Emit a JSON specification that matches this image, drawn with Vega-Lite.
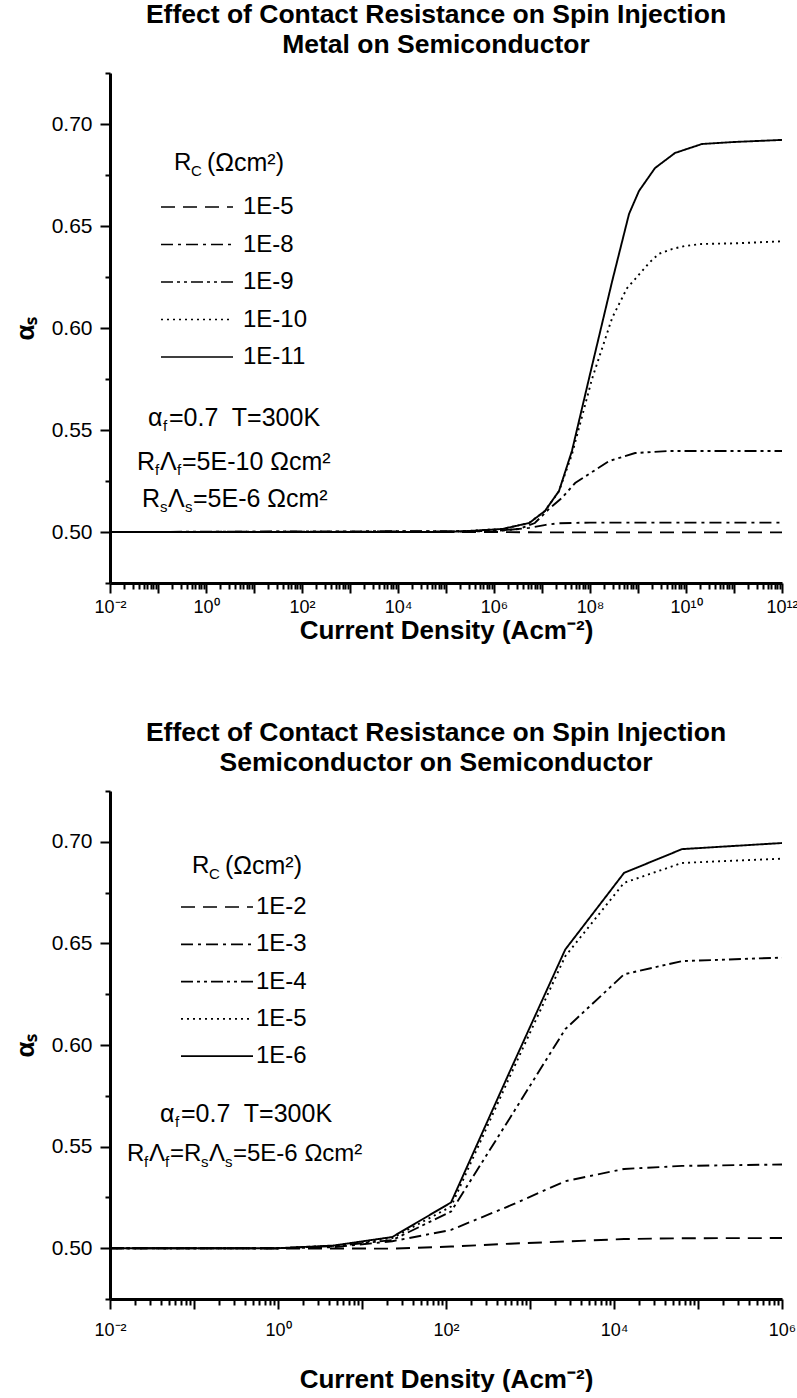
{
  "$schema": "https://vega.github.io/schema/vega-lite/v6.json",
  "background": "white",
  "padding": {"left": 12, "top": 1, "right": 0, "bottom": 0},
  "autosize": {"type": "pad"},
  "spacing": 76,
  "config": {
    "font": "Liberation Sans",
    "view": {"stroke": null},
    "axis": {"grid": false, "domainColor": "black", "domainWidth": 3, "tickColor": "black", "tickWidth": 2, "labelColor": "black", "titleColor": "black", "labelFont": "Liberation Sans", "titleFont": "Liberation Sans"},
    "title": {"fontSize": 26.5, "fontWeight": "bold", "color": "black", "lineHeight": 30, "anchor": "middle", "frame": "group", "offset": 14, "font": "Liberation Sans"},
    "legend": {"labelFont": "Liberation Sans", "labelColor": "black"}
  },
  "resolve": {"scale": {"x": "independent", "y": "independent", "strokeDash": "independent"}, "legend": {"strokeDash": "independent"}},
  "vconcat": [
    {
      "width": 672,
      "height": 510,
      "title": {"text": ["Effect of Contact Resistance on Spin Injection", "Metal on Semiconductor"], "dx": -10},
      "layer": [
        {
          "data": {"values": [
            {"rc": "1E-11", "J": 0.01, "a": 0.5},
            {"rc": "1E-11", "J": 100000, "a": 0.5},
            {"rc": "1E-11", "J": 300000, "a": 0.5005},
            {"rc": "1E-11", "J": 1500000, "a": 0.5015},
            {"rc": "1E-11", "J": 5400000, "a": 0.5044},
            {"rc": "1E-11", "J": 11500000, "a": 0.5103},
            {"rc": "1E-11", "J": 22600000, "a": 0.5201},
            {"rc": "1E-11", "J": 42000000, "a": 0.5397},
            {"rc": "1E-11", "J": 110000000, "a": 0.5814},
            {"rc": "1E-11", "J": 290000000, "a": 0.623},
            {"rc": "1E-11", "J": 650000000, "a": 0.6559},
            {"rc": "1E-11", "J": 1050000000, "a": 0.6672},
            {"rc": "1E-11", "J": 2260000000, "a": 0.6784},
            {"rc": "1E-11", "J": 5900000000, "a": 0.6858},
            {"rc": "1E-11", "J": 21500000000, "a": 0.6902},
            {"rc": "1E-11", "J": 105000000000, "a": 0.6912},
            {"rc": "1E-11", "J": 1000000000000, "a": 0.6922},
            {"rc": "1E-10", "J": 0.01, "a": 0.5},
            {"rc": "1E-10", "J": 100000, "a": 0.5},
            {"rc": "1E-10", "J": 300000, "a": 0.5005},
            {"rc": "1E-10", "J": 1500000, "a": 0.5015},
            {"rc": "1E-10", "J": 5400000, "a": 0.5044},
            {"rc": "1E-10", "J": 11500000, "a": 0.5103},
            {"rc": "1E-10", "J": 22600000, "a": 0.52},
            {"rc": "1E-10", "J": 42000000, "a": 0.538},
            {"rc": "1E-10", "J": 110000000, "a": 0.575},
            {"rc": "1E-10", "J": 290000000, "a": 0.605},
            {"rc": "1E-10", "J": 590000000, "a": 0.6195},
            {"rc": "1E-10", "J": 870000000, "a": 0.624},
            {"rc": "1E-10", "J": 1700000000, "a": 0.6319},
            {"rc": "1E-10", "J": 2700000000, "a": 0.6363},
            {"rc": "1E-10", "J": 5100000000, "a": 0.6387},
            {"rc": "1E-10", "J": 9500000000, "a": 0.6402},
            {"rc": "1E-10", "J": 21500000000, "a": 0.6412},
            {"rc": "1E-10", "J": 105000000000, "a": 0.6415},
            {"rc": "1E-10", "J": 1000000000000, "a": 0.6425},
            {"rc": "1E-9", "J": 0.01, "a": 0.5},
            {"rc": "1E-9", "J": 1000000, "a": 0.5005},
            {"rc": "1E-9", "J": 3300000, "a": 0.5015},
            {"rc": "1E-9", "J": 7100000, "a": 0.5044},
            {"rc": "1E-9", "J": 14000000, "a": 0.5113},
            {"rc": "1E-9", "J": 26000000, "a": 0.5167},
            {"rc": "1E-9", "J": 49000000, "a": 0.524},
            {"rc": "1E-9", "J": 95000000, "a": 0.5284},
            {"rc": "1E-9", "J": 250000000, "a": 0.5348},
            {"rc": "1E-9", "J": 870000000, "a": 0.5387},
            {"rc": "1E-9", "J": 4400000000, "a": 0.5397},
            {"rc": "1E-9", "J": 1000000000000, "a": 0.5397},
            {"rc": "1E-8", "J": 0.01, "a": 0.5},
            {"rc": "1E-8", "J": 1000000, "a": 0.5003},
            {"rc": "1E-8", "J": 5400000, "a": 0.502},
            {"rc": "1E-8", "J": 12000000, "a": 0.5035},
            {"rc": "1E-8", "J": 22000000, "a": 0.5043},
            {"rc": "1E-8", "J": 100000000, "a": 0.5046},
            {"rc": "1E-8", "J": 1000000000000, "a": 0.5046},
            {"rc": "1E-5", "J": 0.01, "a": 0.5},
            {"rc": "1E-5", "J": 1000000, "a": 0.5},
            {"rc": "1E-5", "J": 10000000, "a": 0.4998},
            {"rc": "1E-5", "J": 1000000000000, "a": 0.4998}
          ]},
          "mark": {"type": "line", "color": "black", "strokeWidth": 1.9},
          "encoding": {
            "x": {"field": "J", "type": "quantitative",
              "scale": {"type": "log", "domain": [0.01, 1000000000000], "nice": false},
              "axis": {
                "title": "Current Density (Acm⁻²)",
                "values": [1e-2,2e-2,3e-2,4e-2,5e-2,6e-2,7e-2,8e-2,9e-2,1e-1,2e-1,3e-1,4e-1,5e-1,6e-1,7e-1,8e-1,9e-1,1,2,3,4,5,6,7,8,9,1e1,2e1,3e1,4e1,5e1,6e1,7e1,8e1,9e1,1e2,2e2,3e2,4e2,5e2,6e2,7e2,8e2,9e2,1e3,2e3,3e3,4e3,5e3,6e3,7e3,8e3,9e3,1e4,2e4,3e4,4e4,5e4,6e4,7e4,8e4,9e4,1e5,2e5,3e5,4e5,5e5,6e5,7e5,8e5,9e5,1e6,2e6,3e6,4e6,5e6,6e6,7e6,8e6,9e6,1e7,2e7,3e7,4e7,5e7,6e7,7e7,8e7,9e7,1e8,2e8,3e8,4e8,5e8,6e8,7e8,8e8,9e8,1e9,2e9,3e9,4e9,5e9,6e9,7e9,8e9,9e9,1e10,2e10,3e10,4e10,5e10,6e10,7e10,8e10,9e10,1e11,2e11,3e11,4e11,5e11,6e11,7e11,8e11,9e11,1e12],
                "labelExpr": "abs(log(datum.value)/LN10 - round(log(datum.value)/LN10)) < 0.001 && round(log(datum.value)/LN10) % 2 == 0 ? '10' + replace(replace(replace(replace(replace(replace(replace('' + round(log(datum.value)/LN10), '-', '⁻'), '0', '⁰'), '1', '¹'), '2', '²'), '4', '⁴'), '6', '⁶'), '8', '⁸') : ''",
                "labelOverlap": false,
                "labelFlush": false,
                "labelFontSize": 18,
                "labelPadding": 5,
                "tickSize": {"condition": {"test": "abs(log(datum.value)/LN10 - round(log(datum.value)/LN10)) < 0.001", "value": 10}, "value": 6},
                "titleFontSize": 26,
                "titleFontWeight": "bold",
                "titlePadding": 1
              }
            },
            "y": {"field": "a", "type": "quantitative",
              "scale": {"domain": [0.475, 0.725], "nice": false, "zero": false},
              "axis": {
                "title": "αₛ",
                "values": [0.475, 0.5, 0.525, 0.55, 0.575, 0.6, 0.625, 0.65, 0.675, 0.7, 0.725],
                "labelExpr": "abs(datum.value*20 - round(datum.value*20)) < 0.001 ? format(datum.value, '.2f') : ''",
                "tickSize": {"condition": {"test": "abs(datum.value*20 - round(datum.value*20)) < 0.001", "value": 10}, "value": 5},
                "labelFontSize": 21,
                "labelPadding": 8,
                "titleFontSize": 26,
                "titleFontWeight": "bold",
                "titlePadding": 13
              }
            },
            "strokeDash": {"field": "rc", "type": "nominal",
              "scale": {"domain": ["1E-5", "1E-8", "1E-9", "1E-10", "1E-11"], "range": [[14, 8], [12, 5, 3, 5], [12, 4, 3, 4, 3, 4], [2, 4], [1, 0]]},
              "legend": {"orient": "none", "legendX": 39, "legendY": 122, "title": null, "symbolType": "M0,0H72", "symbolSize": 4, "symbolStrokeWidth": 1.7, "symbolStrokeColor": "black", "labelFontSize": 24, "labelOffset": 70, "rowPadding": 13.5}
            }
          }
        },
        {"data": {"values": [{}]}, "mark": {"type": "text", "text": "R", "align": "left", "baseline": "middle", "fontSize": 24, "dx": 64, "color": "black"}, "encoding": {"x": {"datum": 0.01, "type": "quantitative"}, "y": {"datum": 0.6809, "type": "quantitative"}}},
        {"data": {"values": [{}]}, "mark": {"type": "text", "text": "C", "align": "left", "baseline": "middle", "fontSize": 15, "dx": 81, "dy": 8, "color": "black"}, "encoding": {"x": {"datum": 0.01, "type": "quantitative"}, "y": {"datum": 0.6809, "type": "quantitative"}}},
        {"data": {"values": [{}]}, "mark": {"type": "text", "text": "(Ωcm²)", "align": "left", "baseline": "middle", "fontSize": 25, "dx": 97, "color": "black"}, "encoding": {"x": {"datum": 0.01, "type": "quantitative"}, "y": {"datum": 0.6809, "type": "quantitative"}}},
        {"data": {"values": [{}]}, "mark": {"type": "text", "text": "α", "align": "left", "baseline": "middle", "fontSize": 25, "dx": 38, "color": "black"}, "encoding": {"x": {"datum": 0.01, "type": "quantitative"}, "y": {"datum": 0.5559, "type": "quantitative"}}},
        {"data": {"values": [{}]}, "mark": {"type": "text", "text": "f", "align": "left", "baseline": "middle", "fontSize": 15, "dx": 53, "dy": 8, "color": "black"}, "encoding": {"x": {"datum": 0.01, "type": "quantitative"}, "y": {"datum": 0.5559, "type": "quantitative"}}},
        {"data": {"values": [{}]}, "mark": {"type": "text", "text": "=0.7\u00a0 T=300K", "align": "left", "baseline": "middle", "fontSize": 25, "dx": 59, "color": "black"}, "encoding": {"x": {"datum": 0.01, "type": "quantitative"}, "y": {"datum": 0.5559, "type": "quantitative"}}},
        {"data": {"values": [{}]}, "mark": {"type": "text", "text": "R", "align": "left", "baseline": "middle", "fontSize": 25, "dx": 27, "color": "black"}, "encoding": {"x": {"datum": 0.01, "type": "quantitative"}, "y": {"datum": 0.5343, "type": "quantitative"}}},
        {"data": {"values": [{}]}, "mark": {"type": "text", "text": "f", "align": "left", "baseline": "middle", "fontSize": 15, "dx": 45, "dy": 8, "color": "black"}, "encoding": {"x": {"datum": 0.01, "type": "quantitative"}, "y": {"datum": 0.5343, "type": "quantitative"}}},
        {"data": {"values": [{}]}, "mark": {"type": "text", "text": "Λ", "align": "left", "baseline": "middle", "fontSize": 25, "dx": 50, "color": "black"}, "encoding": {"x": {"datum": 0.01, "type": "quantitative"}, "y": {"datum": 0.5343, "type": "quantitative"}}},
        {"data": {"values": [{}]}, "mark": {"type": "text", "text": "f", "align": "left", "baseline": "middle", "fontSize": 15, "dx": 67, "dy": 8, "color": "black"}, "encoding": {"x": {"datum": 0.01, "type": "quantitative"}, "y": {"datum": 0.5343, "type": "quantitative"}}},
        {"data": {"values": [{}]}, "mark": {"type": "text", "text": "=5E-10 Ωcm²", "align": "left", "baseline": "middle", "fontSize": 25, "dx": 72, "color": "black"}, "encoding": {"x": {"datum": 0.01, "type": "quantitative"}, "y": {"datum": 0.5343, "type": "quantitative"}}},
        {"data": {"values": [{}]}, "mark": {"type": "text", "text": "R", "align": "left", "baseline": "middle", "fontSize": 25, "dx": 32, "color": "black"}, "encoding": {"x": {"datum": 0.01, "type": "quantitative"}, "y": {"datum": 0.5162, "type": "quantitative"}}},
        {"data": {"values": [{}]}, "mark": {"type": "text", "text": "s", "align": "left", "baseline": "middle", "fontSize": 15, "dx": 50, "dy": 8, "color": "black"}, "encoding": {"x": {"datum": 0.01, "type": "quantitative"}, "y": {"datum": 0.5162, "type": "quantitative"}}},
        {"data": {"values": [{}]}, "mark": {"type": "text", "text": "Λ", "align": "left", "baseline": "middle", "fontSize": 25, "dx": 58, "color": "black"}, "encoding": {"x": {"datum": 0.01, "type": "quantitative"}, "y": {"datum": 0.5162, "type": "quantitative"}}},
        {"data": {"values": [{}]}, "mark": {"type": "text", "text": "s", "align": "left", "baseline": "middle", "fontSize": 15, "dx": 75, "dy": 8, "color": "black"}, "encoding": {"x": {"datum": 0.01, "type": "quantitative"}, "y": {"datum": 0.5162, "type": "quantitative"}}},
        {"data": {"values": [{}]}, "mark": {"type": "text", "text": "=5E-6 Ωcm²", "align": "left", "baseline": "middle", "fontSize": 25, "dx": 83, "color": "black"}, "encoding": {"x": {"datum": 0.01, "type": "quantitative"}, "y": {"datum": 0.5162, "type": "quantitative"}}}
      ]
    },
    {
      "width": 672,
      "height": 508,
      "title": {"text": ["Effect of Contact Resistance on Spin Injection", "Semiconductor on Semiconductor"], "dx": -10},
      "layer": [
        {
          "data": {"values": [
            {"rc": "1E-6", "J": 0.01, "a": 0.5},
            {"rc": "1E-6", "J": 1, "a": 0.5},
            {"rc": "1E-6", "J": 4.57, "a": 0.5013},
            {"rc": "1E-6", "J": 22.9, "a": 0.5055},
            {"rc": "1E-6", "J": 114.8, "a": 0.5225},
            {"rc": "1E-6", "J": 575, "a": 0.587},
            {"rc": "1E-6", "J": 2630, "a": 0.647},
            {"rc": "1E-6", "J": 13180, "a": 0.6847},
            {"rc": "1E-6", "J": 64570, "a": 0.6964},
            {"rc": "1E-6", "J": 1000000, "a": 0.6994},
            {"rc": "1E-5", "J": 0.01, "a": 0.5},
            {"rc": "1E-5", "J": 1, "a": 0.5},
            {"rc": "1E-5", "J": 4.57, "a": 0.5012},
            {"rc": "1E-5", "J": 22.9, "a": 0.505},
            {"rc": "1E-5", "J": 114.8, "a": 0.5205},
            {"rc": "1E-5", "J": 575, "a": 0.5845},
            {"rc": "1E-5", "J": 2630, "a": 0.6437},
            {"rc": "1E-5", "J": 13180, "a": 0.6798},
            {"rc": "1E-5", "J": 64570, "a": 0.6896},
            {"rc": "1E-5", "J": 1000000, "a": 0.6917},
            {"rc": "1E-4", "J": 0.01, "a": 0.5},
            {"rc": "1E-4", "J": 1, "a": 0.5},
            {"rc": "1E-4", "J": 4.57, "a": 0.501},
            {"rc": "1E-4", "J": 22.9, "a": 0.504},
            {"rc": "1E-4", "J": 114.8, "a": 0.518},
            {"rc": "1E-4", "J": 575, "a": 0.564},
            {"rc": "1E-4", "J": 2630, "a": 0.6078},
            {"rc": "1E-4", "J": 13180, "a": 0.6348},
            {"rc": "1E-4", "J": 64570, "a": 0.6413},
            {"rc": "1E-4", "J": 1000000, "a": 0.643},
            {"rc": "1E-3", "J": 0.01, "a": 0.5},
            {"rc": "1E-3", "J": 1, "a": 0.5},
            {"rc": "1E-3", "J": 4.57, "a": 0.5005},
            {"rc": "1E-3", "J": 22.9, "a": 0.5034},
            {"rc": "1E-3", "J": 114.8, "a": 0.509},
            {"rc": "1E-3", "J": 575, "a": 0.5209},
            {"rc": "1E-3", "J": 2630, "a": 0.533},
            {"rc": "1E-3", "J": 13180, "a": 0.539},
            {"rc": "1E-3", "J": 64570, "a": 0.5405},
            {"rc": "1E-3", "J": 1000000, "a": 0.5412},
            {"rc": "1E-2", "J": 0.01, "a": 0.5},
            {"rc": "1E-2", "J": 22.9, "a": 0.4998},
            {"rc": "1E-2", "J": 114.8, "a": 0.5008},
            {"rc": "1E-2", "J": 575, "a": 0.5022},
            {"rc": "1E-2", "J": 2630, "a": 0.5033},
            {"rc": "1E-2", "J": 13180, "a": 0.5045},
            {"rc": "1E-2", "J": 64570, "a": 0.5049},
            {"rc": "1E-2", "J": 1000000, "a": 0.505}
          ]},
          "mark": {"type": "line", "color": "black", "strokeWidth": 1.9},
          "encoding": {
            "x": {"field": "J", "type": "quantitative",
              "scale": {"type": "log", "domain": [0.01, 1000000], "nice": false},
              "axis": {
                "title": "Current Density (Acm⁻²)",
                "values": [1e-2,2e-2,3e-2,4e-2,5e-2,6e-2,7e-2,8e-2,9e-2,1e-1,2e-1,3e-1,4e-1,5e-1,6e-1,7e-1,8e-1,9e-1,1,2,3,4,5,6,7,8,9,1e1,2e1,3e1,4e1,5e1,6e1,7e1,8e1,9e1,1e2,2e2,3e2,4e2,5e2,6e2,7e2,8e2,9e2,1e3,2e3,3e3,4e3,5e3,6e3,7e3,8e3,9e3,1e4,2e4,3e4,4e4,5e4,6e4,7e4,8e4,9e4,1e5,2e5,3e5,4e5,5e5,6e5,7e5,8e5,9e5,1e6],
                "labelExpr": "abs(log(datum.value)/LN10 - round(log(datum.value)/LN10)) < 0.001 && round(log(datum.value)/LN10) % 2 == 0 ? '10' + replace(replace(replace(replace(replace(replace(replace('' + round(log(datum.value)/LN10), '-', '⁻'), '0', '⁰'), '1', '¹'), '2', '²'), '4', '⁴'), '6', '⁶'), '8', '⁸') : ''",
                "labelOverlap": false,
                "labelFlush": false,
                "labelFontSize": 18,
                "labelPadding": 12,
                "tickSize": {"condition": {"test": "abs(log(datum.value)/LN10 - round(log(datum.value)/LN10)) < 0.001", "value": 10}, "value": 6},
                "titleFontSize": 26,
                "titleFontWeight": "bold",
                "titlePadding": 27
              }
            },
            "y": {"field": "a", "type": "quantitative",
              "scale": {"domain": [0.475, 0.725], "nice": false, "zero": false},
              "axis": {
                "title": "αₛ",
                "values": [0.475, 0.5, 0.525, 0.55, 0.575, 0.6, 0.625, 0.65, 0.675, 0.7, 0.725],
                "labelExpr": "abs(datum.value*20 - round(datum.value*20)) < 0.001 ? format(datum.value, '.2f') : ''",
                "tickSize": {"condition": {"test": "abs(datum.value*20 - round(datum.value*20)) < 0.001", "value": 10}, "value": 5},
                "labelFontSize": 21,
                "labelPadding": 8,
                "titleFontSize": 26,
                "titleFontWeight": "bold",
                "titlePadding": 13
              }
            },
            "strokeDash": {"field": "rc", "type": "nominal",
              "scale": {"domain": ["1E-2", "1E-3", "1E-4", "1E-5", "1E-6"], "range": [[14, 8], [12, 5, 3, 5], [12, 4, 3, 4, 3, 4], [2, 4], [1, 0]]},
              "legend": {"orient": "none", "legendX": 59, "legendY": 104, "title": null, "symbolType": "M0,0H72", "symbolSize": 4, "symbolStrokeWidth": 1.7, "symbolStrokeColor": "black", "labelFontSize": 24, "labelOffset": 63, "rowPadding": 13.3}
            }
          }
        },
        {"data": {"values": [{}]}, "mark": {"type": "text", "text": "R", "align": "left", "baseline": "middle", "fontSize": 24, "dx": 82, "color": "black"}, "encoding": {"x": {"datum": 0.01, "type": "quantitative"}, "y": {"datum": 0.6879, "type": "quantitative"}}},
        {"data": {"values": [{}]}, "mark": {"type": "text", "text": "C", "align": "left", "baseline": "middle", "fontSize": 15, "dx": 99, "dy": 8, "color": "black"}, "encoding": {"x": {"datum": 0.01, "type": "quantitative"}, "y": {"datum": 0.6879, "type": "quantitative"}}},
        {"data": {"values": [{}]}, "mark": {"type": "text", "text": "(Ωcm²)", "align": "left", "baseline": "middle", "fontSize": 25, "dx": 115, "color": "black"}, "encoding": {"x": {"datum": 0.01, "type": "quantitative"}, "y": {"datum": 0.6879, "type": "quantitative"}}},
        {"data": {"values": [{}]}, "mark": {"type": "text", "text": "α", "align": "left", "baseline": "middle", "fontSize": 25, "dx": 50, "color": "black"}, "encoding": {"x": {"datum": 0.01, "type": "quantitative"}, "y": {"datum": 0.5662, "type": "quantitative"}}},
        {"data": {"values": [{}]}, "mark": {"type": "text", "text": "f", "align": "left", "baseline": "middle", "fontSize": 15, "dx": 65, "dy": 8, "color": "black"}, "encoding": {"x": {"datum": 0.01, "type": "quantitative"}, "y": {"datum": 0.5662, "type": "quantitative"}}},
        {"data": {"values": [{}]}, "mark": {"type": "text", "text": "=0.7\u00a0 T=300K", "align": "left", "baseline": "middle", "fontSize": 25, "dx": 71, "color": "black"}, "encoding": {"x": {"datum": 0.01, "type": "quantitative"}, "y": {"datum": 0.5662, "type": "quantitative"}}},
        {"data": {"values": [{}]}, "mark": {"type": "text", "text": "R", "align": "left", "baseline": "middle", "fontSize": 24, "dx": 17, "color": "black"}, "encoding": {"x": {"datum": 0.01, "type": "quantitative"}, "y": {"datum": 0.5466, "type": "quantitative"}}},
        {"data": {"values": [{}]}, "mark": {"type": "text", "text": "f", "align": "left", "baseline": "middle", "fontSize": 15, "dx": 34, "dy": 8, "color": "black"}, "encoding": {"x": {"datum": 0.01, "type": "quantitative"}, "y": {"datum": 0.5466, "type": "quantitative"}}},
        {"data": {"values": [{}]}, "mark": {"type": "text", "text": "Λ", "align": "left", "baseline": "middle", "fontSize": 24, "dx": 39, "color": "black"}, "encoding": {"x": {"datum": 0.01, "type": "quantitative"}, "y": {"datum": 0.5466, "type": "quantitative"}}},
        {"data": {"values": [{}]}, "mark": {"type": "text", "text": "f", "align": "left", "baseline": "middle", "fontSize": 15, "dx": 55, "dy": 8, "color": "black"}, "encoding": {"x": {"datum": 0.01, "type": "quantitative"}, "y": {"datum": 0.5466, "type": "quantitative"}}},
        {"data": {"values": [{}]}, "mark": {"type": "text", "text": "=R", "align": "left", "baseline": "middle", "fontSize": 24, "dx": 60, "color": "black"}, "encoding": {"x": {"datum": 0.01, "type": "quantitative"}, "y": {"datum": 0.5466, "type": "quantitative"}}},
        {"data": {"values": [{}]}, "mark": {"type": "text", "text": "s", "align": "left", "baseline": "middle", "fontSize": 15, "dx": 91, "dy": 8, "color": "black"}, "encoding": {"x": {"datum": 0.01, "type": "quantitative"}, "y": {"datum": 0.5466, "type": "quantitative"}}},
        {"data": {"values": [{}]}, "mark": {"type": "text", "text": "Λ", "align": "left", "baseline": "middle", "fontSize": 24, "dx": 99, "color": "black"}, "encoding": {"x": {"datum": 0.01, "type": "quantitative"}, "y": {"datum": 0.5466, "type": "quantitative"}}},
        {"data": {"values": [{}]}, "mark": {"type": "text", "text": "s", "align": "left", "baseline": "middle", "fontSize": 15, "dx": 115, "dy": 8, "color": "black"}, "encoding": {"x": {"datum": 0.01, "type": "quantitative"}, "y": {"datum": 0.5466, "type": "quantitative"}}},
        {"data": {"values": [{}]}, "mark": {"type": "text", "text": "=5E-6 Ωcm²", "align": "left", "baseline": "middle", "fontSize": 24, "dx": 123, "color": "black"}, "encoding": {"x": {"datum": 0.01, "type": "quantitative"}, "y": {"datum": 0.5466, "type": "quantitative"}}}
      ]
    }
  ]
}
